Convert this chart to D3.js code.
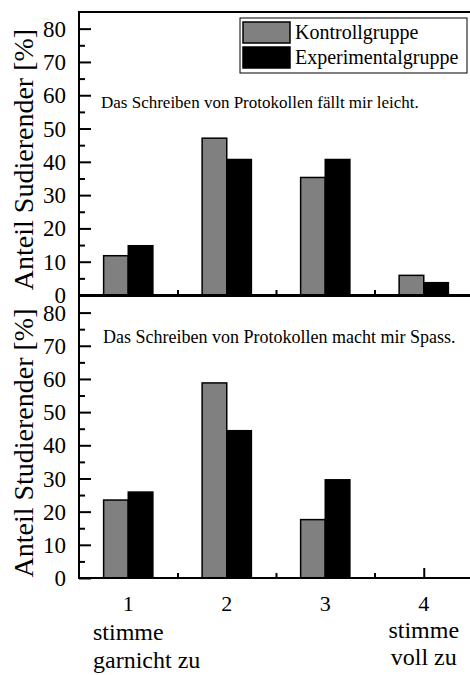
<!DOCTYPE html>
<meta charset="utf-8">
<style>
    html, body { margin: 0; padding: 0; background: #fff; }
    text { font-family: "Liberation Serif", "Times New Roman", serif; }
</style>
<script src="https://d3js.org/d3.v7.min.js"></script>

<div id="chart"></div>

<script>

    // answers on a 4 point scale, share of students in %
    const categories = [1, 2, 3, 4]
    const seriesNames = ["Kontrollgruppe", "Experimentalgruppe"]
    const seriesColors = ["#808080", "#000000"]

    // panel 1: "Das Schreiben von Protokollen fällt mir leicht."
    const leichtKontroll = [11.8, 47.1, 35.3, 5.9]
    const leichtExperimental = [14.8, 40.7, 40.7, 3.7]

    // panel 2: "Das Schreiben von Protokollen macht mir Spass."
    const spassKontroll = [23.5, 58.8, 17.6, 0]
    const spassExperimental = [25.9, 44.4, 29.6, 0]

    const yTicks = [0, 10, 20, 30, 40, 50, 60, 70, 80]
    const yMinorTicks = [5, 15, 25, 35, 45, 55, 65, 75]
    const xMinorTicks = [1.5, 2.5, 3.5]

    const width = 470, height = 675

    const svg = d3.select("#chart")
      .append("svg")
        .attr("width", width)
        .attr("height", height)

    // shared x scale, domain half a category beyond the ends
    const x = d3.scaleLinear()
        .domain([0.5, 4.5])
        .range([79, 473])
    const barW = x(1.25) - x(1)

    const panels = [
      { kontroll: leichtKontroll, experimental: leichtExperimental,
        title: "Das Schreiben von Protokollen fällt mir leicht.", titleSize: 17, titleX: 101, titleY: 108,
        ylabel: "Anteil Sudierender [%]", top: 12, bottom: 295 },
      { kontroll: spassKontroll, experimental: spassExperimental,
        title: "Das Schreiben von Protokollen macht mir Spass.", titleSize: 18, titleX: 103, titleY: 343,
        ylabel: "Anteil Studierender [%]", top: 296, bottom: 578 }
    ]

    panels.forEach(function(p) {
      const y = d3.scaleLinear()
          .domain([0, 85])
          .range([p.bottom, p.top])
      const g = svg.append("g")

      // y axis ticks pointing inwards
      g.append("g")
        .attr("transform", `translate(${x.range()[0]},0)`)
        .call(d3.axisRight(y).tickValues(yTicks).tickSize(12).tickFormat(""))
        .call(a => a.select(".domain").remove())
        .selectAll("line").attr("stroke-width", 2)
      g.append("g")
        .attr("transform", `translate(${x.range()[0]},0)`)
        .call(d3.axisRight(y).tickValues(yMinorTicks).tickSize(6).tickFormat(""))
        .call(a => a.select(".domain").remove())
        .selectAll("line").attr("stroke-width", 2)

      // tick labels
      g.selectAll(".ylab")
        .data(yTicks)
        .join("text")
          .attr("x", 66)
          .attr("y", d => y(d))
          .attr("dy", "0.35em")
          .attr("text-anchor", "end")
          .style("font-size", "23px")
          .text(d => d)

      // x ticks pointing inwards (drawn before bars so bars hide them)
      g.append("g")
        .attr("transform", `translate(0,${p.bottom})`)
        .call(d3.axisTop(x).tickValues(categories).tickSize(10).tickFormat(""))
        .call(a => a.select(".domain").remove())
        .selectAll("line").attr("stroke-width", 2)
      g.append("g")
        .attr("transform", `translate(0,${p.bottom})`)
        .call(d3.axisTop(x).tickValues(xMinorTicks).tickSize(5).tickFormat(""))
        .call(a => a.select(".domain").remove())
        .selectAll("line").attr("stroke-width", 2)

      // bars
      const series = [p.kontroll, p.experimental]
      series.forEach(function(vals, si) {
        g.selectAll(".bar" + si)
          .data(vals.map((v, i) => ({ c: categories[i], v: v })).filter(d => d.v > 0))
          .join("rect")
            .attr("x", d => x(d.c) + (si - 1) * barW)
            .attr("y", d => y(d.v))
            .attr("width", barW)
            .attr("height", d => y(0) - y(d.v))
            .attr("fill", seriesColors[si])
            .attr("stroke", "#000")
            .attr("stroke-width", 1.5)
      })

      // frame
      g.append("path")
        .attr("d", `M${x.range()[1]},${p.top}H${x.range()[0]}V${p.bottom}H${x.range()[1]}Z`)
        .attr("fill", "none")
        .attr("stroke", "#000")
        .attr("stroke-width", 2)

      // panel statement
      g.append("text")
        .attr("x", p.titleX)
        .attr("y", p.titleY)
        .style("font-size", p.titleSize + "px")
        .text(p.title)

      // y axis label
      g.append("text")
        .attr("transform", `translate(33,${(p.top + p.bottom) / 2 + 6}) rotate(-90)`)
        .attr("text-anchor", "middle")
        .style("font-size", "28px")
        .text(p.ylabel)
    })

    // category labels below the lower panel
    svg.selectAll(".xlab")
      .data(categories)
      .join("text")
        .attr("x", d => x(d))
        .attr("y", 611)
        .attr("text-anchor", "middle")
        .style("font-size", "22px")
        .text(d => d)

    const left = svg.append("text").style("font-size", "24px")
    left.append("tspan").attr("x", 93).attr("y", 640).text("stimme")
    left.append("tspan").attr("x", 93).attr("y", 668).text("garnicht zu")

    const right = svg.append("text").style("font-size", "24px").attr("text-anchor", "middle")
    right.append("tspan").attr("x", x(4)).attr("y", 638).text("stimme")
    right.append("tspan").attr("x", x(4)).attr("y", 665).text("voll zu")

    // legend
    const legend = svg.append("g")
    legend.append("rect")
      .attr("x", 240).attr("y", 18).attr("width", 227).attr("height", 55)
      .attr("fill", "#fff").attr("stroke", "#000").attr("stroke-width", 1)
    seriesNames.forEach(function(name, i) {
      legend.append("rect")
        .attr("x", 243).attr("y", 22 + i * 25)
        .attr("width", 47).attr("height", 21)
        .attr("fill", seriesColors[i]).attr("stroke", "#000").attr("stroke-width", 1.5)
      legend.append("text")
        .attr("x", 295).attr("y", 39 + i * 25)
        .style("font-size", "20px")
        .text(name)
    })

</script>
